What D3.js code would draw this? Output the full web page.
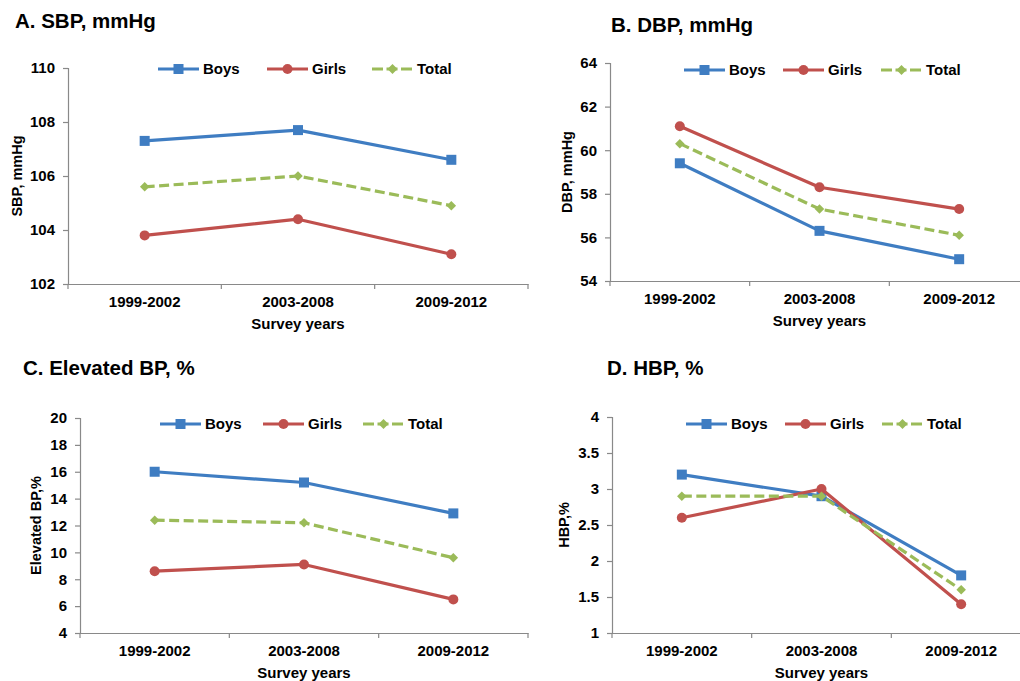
<!DOCTYPE html>
<html>
<head>
<meta charset="utf-8">
<script src="https://cdn.jsdelivr.net/npm/d3@7"></script>
<style>
  html, body { margin: 0; padding: 0; background: #fff; }
  svg { display: block; font-family: "Liberation Sans", Arial, sans-serif; }
</style>
</head>
<body>
<div id="chart"></div>
<script>
// Blood pressure trends, 4 panels

const YEARS  = ["1999-2002", "2003-2008", "2009-2012"];
const SERIES = ["Boys", "Girls", "Total"];
const COLORS = ["#3F7DC2", "#C0504D", "#9BBB59"];

const SBP_BOYS  = [107.3, 107.7, 106.6];
const SBP_GIRLS = [103.8, 104.4, 103.1];
const SBP_TOTAL = [105.6, 106.0, 104.9];
const SBP_TICKS = [102, 104, 106, 108, 110];

const DBP_BOYS  = [59.4, 56.3, 55.0];
const DBP_GIRLS = [61.1, 58.3, 57.3];
const DBP_TOTAL = [60.3, 57.3, 56.1];
const DBP_TICKS = [54, 56, 58, 60, 62, 64];

const EBP_BOYS  = [16.0, 15.2, 12.9];
const EBP_GIRLS = [8.6, 9.1, 6.5];
const EBP_TOTAL = [12.4, 12.2, 9.6];
const EBP_TICKS = [4, 6, 8, 10, 12, 14, 16, 18, 20];

const HBP_BOYS  = [3.2, 2.9, 1.8];
const HBP_GIRLS = [2.6, 3.0, 1.4];
const HBP_TOTAL = [2.9, 2.9, 1.6];
const HBP_TICKS = [1, 1.5, 2, 2.5, 3, 3.5, 4];

// layout of each panel (pixels)
const panels = [
  { title: "A. SBP, mmHg", yTitle: "SBP, mmHg", ticks: SBP_TICKS, values: [SBP_BOYS, SBP_GIRLS, SBP_TOTAL],
    box: {l: 68, t: 68, r: 528, b: 284}, titleAt: [15, 28], yTitleX: 21.5, legX: [158, 267, 372], legY: 69 },
  { title: "B. DBP, mmHg", yTitle: "DBP, mmHg", ticks: DBP_TICKS, values: [DBP_BOYS, DBP_GIRLS, DBP_TOTAL],
    box: {l: 610, t: 63, r: 1029, b: 281}, titleAt: [611, 31.5], yTitleX: 572, legX: [684, 783, 881], legY: 70 },
  { title: "C. Elevated BP, %", yTitle: "Elevated BP,%", ticks: EBP_TICKS, values: [EBP_BOYS, EBP_GIRLS, EBP_TOTAL],
    box: {l: 80, t: 418, r: 528, b: 633}, titleAt: [23, 375], yTitleX: 41, legX: [160, 263, 363], legY: 424 },
  { title: "D. HBP, %", yTitle: "HBP,%", ticks: HBP_TICKS, values: [HBP_BOYS, HBP_GIRLS, HBP_TOTAL],
    box: {l: 612, t: 417, r: 1031, b: 633}, titleAt: [607, 375], yTitleX: 569, legX: [686, 785, 882], legY: 424 }
];

const W = 1020, H = 681;
const AXIS = "#898989";

const svg = d3.select("#chart").append("svg")
  .attr("width", W).attr("height", H).attr("viewBox", `0 0 ${W} ${H}`);

function marker(sel, i, size) {
  const c = COLORS[i];
  if (i === 0) {
    sel.append("rect").attr("x", -size/2).attr("y", -size/2).attr("width", size).attr("height", size).attr("fill", c);
  } else if (i === 1) {
    sel.append("circle").attr("r", size/2).attr("fill", c);
  } else {
    const h = size/2;
    sel.append("path").attr("d", `M0,${-h}L${h},0L0,${h}L${-h},0Z`).attr("fill", c);
  }
}

panels.forEach(p => {
  const g = svg.append("g");
  const {l, t, r, b} = p.box;

  const x = d3.scaleBand().domain(YEARS).range([l, r]).padding(0);
  const y = d3.scaleLinear().domain(d3.extent(p.ticks)).range([b, t]);

  // title
  g.append("text").attr("x", p.titleAt[0]).attr("y", p.titleAt[1])
    .attr("font-size", 20.5).attr("font-weight", 700).attr("fill", "#000").text(p.title);

  // y axis
  const ya = g.append("g").attr("transform", `translate(${l},0)`)
    .call(d3.axisLeft(y).tickValues(p.ticks).tickSize(5).tickPadding(8).tickFormat(d3.format("~g")));
  ya.select(".domain").attr("stroke", AXIS).attr("stroke-width", 1.2);
  ya.selectAll(".tick line").attr("stroke", AXIS).attr("stroke-width", 1.2);
  ya.selectAll(".tick text").attr("font-size", 15).attr("font-weight", 700).attr("fill", "#000")
    .attr("font-family", "Liberation Sans, Arial, sans-serif");

  // x axis: labels at band centres, tick marks at band edges
  const xa = g.append("g").attr("transform", `translate(0,${b})`)
    .call(d3.axisBottom(x).tickSize(0).tickPadding(12.5).tickSizeOuter(0));
  xa.select(".domain").attr("stroke", AXIS).attr("stroke-width", 1.2);
  xa.selectAll(".tick text").attr("font-size", 15).attr("font-weight", 700).attr("fill", "#000")
    .attr("font-family", "Liberation Sans, Arial, sans-serif");
  const edges = YEARS.map(d => x(d)).concat([x.range()[1]]);
  g.selectAll("line.edge").data(edges).join("line").attr("class", "edge")
    .attr("x1", d => d).attr("x2", d => d).attr("y1", b).attr("y2", b + 5)
    .attr("stroke", AXIS).attr("stroke-width", 1.2);

  g.append("text").attr("x", (l + x.range()[1]) / 2).attr("y", b + 45)
    .attr("text-anchor", "middle").attr("font-size", 15).attr("font-weight", 700).text("Survey years");

  g.append("text").attr("transform", `translate(${p.yTitleX},${(t + b) / 2}) rotate(-90)`)
    .attr("text-anchor", "middle").attr("font-size", 14.5).attr("font-weight", 700).text(p.yTitle);

  // series
  const cx = d => x(d) + x.bandwidth() / 2;
  p.values.forEach((vals, i) => {
    const pts = YEARS.map((yr, k) => [cx(yr), y(vals[k])]);
    g.append("path").attr("d", d3.line()(pts)).attr("fill", "none")
      .attr("stroke", COLORS[i]).attr("stroke-width", 3.2).attr("stroke-linejoin", "round")
      .attr("stroke-dasharray", i === 2 ? "10,4.5" : null);
    pts.forEach(pt => {
      g.append("g").attr("transform", `translate(${pt[0]},${pt[1]})`).call(marker, i, i === 2 ? 9.5 : 10);
    });
  });

  // legend
  SERIES.forEach((s, i) => {
    const lx = p.legX[i], ly = p.legY;
    g.append("line").attr("x1", lx).attr("x2", lx + 41).attr("y1", ly).attr("y2", ly)
      .attr("stroke", COLORS[i]).attr("stroke-width", 3.2)
      .attr("stroke-dasharray", i === 2 ? "11,3.5" : null);
    g.append("g").attr("transform", `translate(${lx + 20.5},${ly})`).call(marker, i, 10);
    g.append("text").attr("x", lx + 45).attr("y", ly + 5.3)
      .attr("font-size", 15).attr("font-weight", 700).attr("fill", "#000").text(s);
  });
});
</script>
</body>
</html>
